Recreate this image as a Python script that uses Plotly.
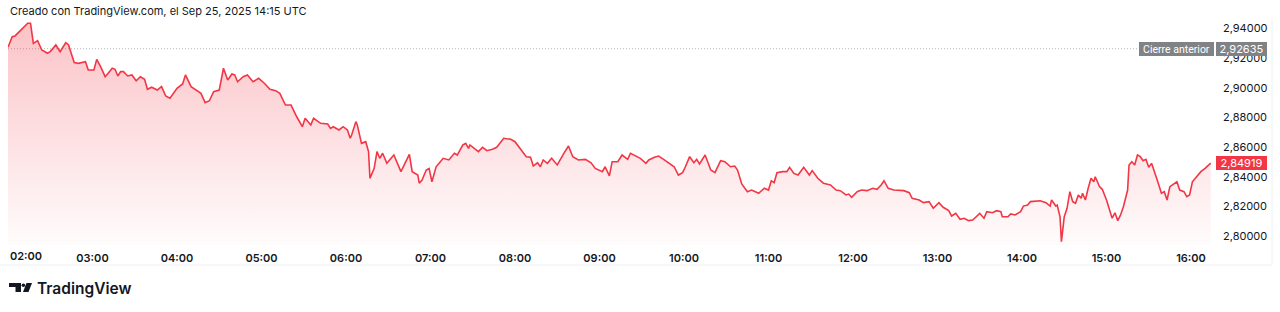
import plotly.graph_objects as go

DATE = "2025-09-25"

times = [
    "02:00", "02:03", "02:05", "02:08", "02:11", "02:14", "02:16", "02:18", "02:21", "02:24",
    "02:28", "02:30", "02:34", "02:37", "02:41", "02:43", "02:47", "02:50", "02:55", "02:57",
    "03:01", "03:03", "03:06", "03:09", "03:12", "03:14", "03:16", "03:18", "03:20", "03:22",
    "03:25", "03:28", "03:31", "03:34", "03:37", "03:39", "03:42", "03:46", "03:49", "03:52",
    "03:55", "04:00", "04:04", "04:06", "04:10", "04:13", "04:17", "04:20", "04:23", "04:26",
    "04:30", "04:33", "04:36", "04:39", "04:41", "04:43", "04:47", "04:50", "04:54", "04:58",
    "05:02", "05:06", "05:10", "05:13", "05:17", "05:21", "05:25", "05:29", "05:31", "05:35",
    "05:37", "05:42",
    "05:47", "05:49", "05:51", "05:55", "05:58", "06:01", "06:03", "06:04", "06:07", "06:08",
    "06:11", "06:14", "06:16", "06:17", "06:20", "06:22", "06:24", "06:26", "06:29", "06:32",
    "06:34", "06:39", "06:42", "06:45", "06:47", "06:51", "06:52", "06:54", "06:57", "06:59",
    "07:01", "07:04", "07:07", "07:09", "07:13", "07:17", "07:19", "07:23", "07:25", "07:27",
    "07:28", "07:32", "07:34", "07:37", "07:40", "07:44", "07:47", "07:52", "07:57", "08:00",
    "08:04", "08:08", "08:11", "08:13", "08:16", "08:18", "08:20", "08:23", "08:26", "08:30",
    "08:35", "08:38", "08:41", "08:45", "08:50", "08:54", "08:57", "09:02", "09:04", "09:07",
    "09:09", "09:13", "09:16", "09:20", "09:22", "09:26", "09:29",
    "09:33", "09:35", "09:39", "09:42", "09:46", "09:50", "09:53", "09:56", "09:59", "10:01",
    "10:04", "10:07", "10:09", "10:11", "10:15", "10:19", "10:22", "10:26", "10:29", "10:33",
    "10:36", "10:38", "10:41", "10:45", "10:48", "10:53", "10:57", "11:00", "11:02", "11:04",
    "11:06", "11:10", "11:13", "11:15", "11:18", "11:21", "11:25", "11:29", "11:31", "11:35",
    "11:39", "11:44", "11:48", "11:51", "11:55", "11:57", "11:59", "12:03", "12:06", "12:10",
    "12:14", "12:17", "12:20", "12:22", "12:25", "12:29", "12:33", "12:36", "12:40", "12:42",
    "12:47", "12:50", "12:54", "12:57", "13:01", "13:04", "13:08", "13:10", "13:13", "13:16",
    "13:19", "13:22", "13:25", "13:27", "13:30", "13:33", "13:35", "13:39", "13:42", "13:45",
    "13:46", "13:50", "13:52", "13:55", "13:59", "14:01", "14:04", "14:06", "14:10", "14:13",
    "14:17", "14:20", "14:21", "14:24", "14:25", "14:27", "14:28", "14:30", "14:32", "14:34",
    "14:36", "14:38", "14:40", "14:42", "14:43", "14:45", "14:47", "14:49", "14:51", "14:52",
    "14:55", "14:57", "15:00", "15:02", "15:04", "15:06", "15:08", "15:10", "15:12", "15:15",
    "15:16", "15:18", "15:20", "15:22", "15:24", "15:26", "15:28", "15:30", "15:32", "15:36",
    "15:39", "15:41", "15:43", "15:45", "15:48", "15:50", "15:52", "15:55", "15:57", "15:59",
    "16:01", "16:03", "16:07", "16:10", "16:13", "16:14",
]

prices = [
    2.9273, 2.9345, 2.9350, 2.9378, 2.9401, 2.9435, 2.9435, 2.9300, 2.9318, 2.9255,
    2.9233, 2.9244, 2.9289, 2.9244, 2.9304, 2.9289, 2.9170, 2.9165, 2.9176, 2.9120,
    2.9120, 2.9192, 2.9138, 2.9075, 2.9109, 2.9132, 2.9125, 2.9080, 2.9109, 2.9109,
    2.9080, 2.9087, 2.9048, 2.9075, 2.9058, 2.8990, 2.9004, 2.8985, 2.9008, 2.8945,
    2.8930, 2.8997, 2.9026, 2.9087, 2.9008, 2.8990, 2.8963, 2.8900, 2.8913, 2.8974,
    2.8985, 2.9132, 2.9053, 2.9093, 2.9087, 2.9041, 2.9075, 2.9087, 2.9041, 2.9064,
    2.9031, 2.8990, 2.8981, 2.8963, 2.8884, 2.8884, 2.8805, 2.8738, 2.8795, 2.8750,
    2.8795, 2.8761,
    2.8756, 2.8727, 2.8738, 2.8716, 2.8738, 2.8716, 2.8660, 2.8682, 2.8772, 2.8750,
    2.8626, 2.8637, 2.8570, 2.8390, 2.8457, 2.8570, 2.8525, 2.8559, 2.8491, 2.8525,
    2.8547, 2.8435, 2.8491, 2.8552, 2.8435, 2.8412, 2.8357, 2.8379, 2.8446, 2.8457,
    2.8367, 2.8468, 2.8502, 2.8525, 2.8514, 2.8559, 2.8547, 2.8615, 2.8626, 2.8592,
    2.8615, 2.8586, 2.8570, 2.8599, 2.8576, 2.8586, 2.8599, 2.8660, 2.8653, 2.8637,
    2.8586, 2.8536, 2.8532, 2.8473, 2.8495, 2.8468, 2.8514, 2.8491, 2.8525, 2.8480,
    2.8563, 2.8608, 2.8536, 2.8514, 2.8518, 2.8495, 2.8457, 2.8435, 2.8468, 2.8406,
    2.8502, 2.8502, 2.8547, 2.8518, 2.8559, 2.8540, 2.8525,
    2.8491, 2.8514, 2.8532, 2.8540, 2.8514, 2.8491, 2.8468, 2.8412, 2.8428, 2.8468,
    2.8536, 2.8495, 2.8518, 2.8487, 2.8547, 2.8446, 2.8428, 2.8509, 2.8502, 2.8468,
    2.8473, 2.8446, 2.8352, 2.8300, 2.8311, 2.8289, 2.8323, 2.8311, 2.8374, 2.8360,
    2.8428, 2.8435, 2.8435, 2.8464, 2.8423, 2.8412, 2.8464, 2.8412, 2.8442, 2.8390,
    2.8357, 2.8345, 2.8311, 2.8307, 2.8278, 2.8284, 2.8262, 2.8300, 2.8311, 2.8307,
    2.8323, 2.8316, 2.8345, 2.8374, 2.8323, 2.8311, 2.8307, 2.8307, 2.8293, 2.8255,
    2.8244, 2.8226, 2.8233, 2.8188, 2.8226, 2.8195, 2.8172, 2.8136, 2.8154, 2.8114,
    2.8121, 2.8105, 2.8109, 2.8127, 2.8154, 2.8121, 2.8165, 2.8158, 2.8172, 2.8165,
    2.8131, 2.8131, 2.8150, 2.8143, 2.8165, 2.8203, 2.8210, 2.8233, 2.8239, 2.8239,
    2.8226, 2.8203, 2.8244, 2.8203, 2.8210, 2.8131, 2.7963, 2.8131, 2.8188, 2.8300,
    2.8233, 2.8222, 2.8278, 2.8255, 2.8289, 2.8244, 2.8323, 2.8390, 2.8367, 2.8401,
    2.8334, 2.8316, 2.8244, 2.8188, 2.8121, 2.8158, 2.8105, 2.8143, 2.8199, 2.8311,
    2.8480, 2.8502, 2.8480, 2.8547, 2.8536, 2.8509, 2.8518, 2.8464, 2.8491, 2.8379,
    2.8289, 2.8300, 2.8244, 2.8334, 2.8357, 2.8367, 2.8311, 2.8300, 2.8267, 2.8278,
    2.8367, 2.8390, 2.8435, 2.8457, 2.8480, 2.84919,
]

assert len(times) == len(prices)

hour_labels = ["02:00", "03:00", "04:00", "05:00", "06:00", "07:00", "08:00", "09:00",
               "10:00", "11:00", "12:00", "13:00", "14:00", "15:00", "16:00"]
price_ticks = [2.80, 2.82, 2.84, 2.86, 2.88, 2.90, 2.92, 2.94]
prev_close = 2.92635
last_price = prices[-1]
header_text = "Creado con TradingView.com, el Sep 25, 2025 14:15 UTC"
logo_text = "TradingView"
prev_close_text = "Cierre anterior"

RED = "#f23645"
GRAY = "#808285"
TXT = "#131722"
FONT = "Inter, Roboto, sans-serif"
LABEL_FONT = "Roboto, Inter, sans-serif"

W, H = 1280, 312
L, R, T, B = 8, 66, 18, 67
PW, PH = W - L - R, H - T - B


def px_x(x):
    return (x - L) / PW


def px_y(y):
    return (H - B - y) / PH


x_vals = [f"{DATE} {t}" for t in times]

fig = go.Figure()
fig.add_trace(go.Scatter(
    x=x_vals, y=prices, mode="lines",
    line=dict(color=RED, width=1.6),
    fill="tozeroy",
    fillgradient=dict(
        type="vertical",
        start=2.794, stop=2.944,
        colorscale=[[0, "rgba(242,54,69,0.015)"], [1, "rgba(242,54,69,0.30)"]],
    ),
    hoverinfo="skip",
    showlegend=False,
))

shapes = [
    # previous close dotted line
    dict(type="line", xref="paper", yref="y", x0=0, x1=1, y0=prev_close, y1=prev_close,
         line=dict(color="#b2b5be", width=1, dash="1px,2px"), layer="below"),
    # faint frame
    dict(type="line", xref="paper", yref="paper", x0=px_x(0), x1=px_x(1272),
         y0=px_y(265), y1=px_y(265), line=dict(color="#eef0f3", width=1)),
    dict(type="line", xref="paper", yref="paper", x0=px_x(1272), x1=px_x(1272),
         y0=px_y(19), y1=px_y(265), line=dict(color="#eef0f3", width=1)),
    # logo
    dict(type="rect", xref="paper", yref="paper", x0=px_x(9), x1=px_x(21),
         y0=px_y(287), y1=px_y(283), fillcolor="#131722", line_width=0),
    dict(type="rect", xref="paper", yref="paper", x0=px_x(15.5), x1=px_x(21),
         y0=px_y(292), y1=px_y(283), fillcolor="#131722", line_width=0),
    dict(type="circle", xref="paper", yref="paper", x0=px_x(21.6), x1=px_x(25.2),
         y0=px_y(287), y1=px_y(283.4), fillcolor="#131722", line_width=0),
    dict(type="path", xref="paper", yref="paper",
         path=(f"M {px_x(26.5)},{px_y(283)} L {px_x(32)},{px_y(283)} "
               f"L {px_x(28.5)},{px_y(292)} L {px_x(23)},{px_y(292)} Z"),
         fillcolor="#131722", line_width=0),
]

annotations = [
    dict(text=header_text, xref="paper", yref="paper", x=px_x(8), y=px_y(11),
         xanchor="left", yanchor="middle", showarrow=False,
         font=dict(family=FONT, size=11, color=TXT)),
    dict(text=logo_text, xref="paper", yref="paper", x=px_x(35), y=px_y(288.5),
         xanchor="left", yanchor="middle", showarrow=False,
         font=dict(family=FONT, size=15.5, color="#131722", weight=600)),
    dict(text=hour_labels[0], xref="x", yref="paper", x=f"{DATE} {hour_labels[0]}",
         y=px_y(255.5), xanchor="left", yanchor="middle", showarrow=False,
         font=dict(family=FONT, size=11, color=TXT, weight=600)),
    dict(text=prev_close_text, xref="paper", yref="y", x=1, y=prev_close,
         xanchor="right", yanchor="middle", xshift=-0.5, showarrow=False,
         width=75, height=14, bgcolor=GRAY, borderpad=0, borderwidth=0,
         font=dict(family=LABEL_FONT, size=10.5, color="white")),
    dict(text=f"{prev_close:.5f}".replace(".", ","), xref="paper", yref="y", x=1,
         y=prev_close, xanchor="left", yanchor="middle", xshift=2, showarrow=False,
         width=51, height=14, bgcolor=GRAY, borderpad=0, borderwidth=0,
         font=dict(family=FONT, size=11, color="white")),
    dict(text=f"{last_price:.5f}".replace(".", ","), xref="paper", yref="y", x=1,
         y=last_price, xanchor="left", yanchor="middle", xshift=2, showarrow=False,
         width=51, height=14, bgcolor=RED, borderpad=0, borderwidth=0,
         font=dict(family=FONT, size=11, color="white")),
]

fig.update_layout(
    width=W, height=H, autosize=False,
    margin=dict(l=L, r=R, t=T, b=B, pad=0),
    paper_bgcolor="white", plot_bgcolor="white",
    separators=",.",
    font=dict(family=FONT, size=11, color=TXT),
    shapes=shapes, annotations=annotations,
    xaxis=dict(
        type="date",
        range=[f"{DATE} 02:00", f"{DATE} 16:16:20"],
        tickvals=[f"{DATE} {h}" for h in hour_labels[1:]],
        ticktext=hour_labels[1:],
        showgrid=False, zeroline=False, showline=False, ticks="",
        ticklabelstandoff=5,
        tickfont=dict(family=FONT, size=11, color=TXT, weight=600),
        fixedrange=True,
    ),
    yaxis=dict(
        side="right",
        range=[2.79406, 2.94707],
        tickvals=price_ticks,
        tickformat=".5f",
        showgrid=False, zeroline=False, showline=False, ticks="",
        ticklabelstandoff=8,
        tickfont=dict(family=FONT, size=11, color=TXT),
        fixedrange=True,
    ),
    hovermode=False,
)

fig.write_html("out.html", config={"displayModeBar": False})
